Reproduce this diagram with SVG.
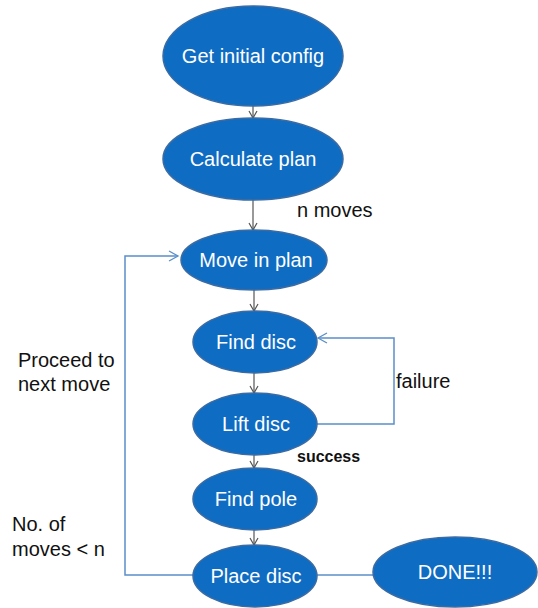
<svg xmlns="http://www.w3.org/2000/svg" width="538" height="608" viewBox="0 0 538 608">
<defs>
<style>
.node{fill:#0f6cc3;stroke:#3a6ba3;stroke-width:1.5}
.nt{font-family:"Liberation Sans",Arial,sans-serif;font-size:20px;fill:#ffffff;text-anchor:middle}
.lbl{font-family:"Liberation Sans",Arial,sans-serif;font-size:20px;fill:#111111}
.dark{fill:none;stroke:#555555;stroke-width:1.2}
.blue{fill:none;stroke:#5b8fc9;stroke-width:1.5}
</style>
<marker id="ad" markerWidth="10" markerHeight="10" refX="8" refY="5" orient="auto" markerUnits="userSpaceOnUse">
<path d="M1,1 L8,5 L1,9" fill="none" stroke="#555555" stroke-width="1.2"/>
</marker>
<marker id="ab" markerWidth="12" markerHeight="12" refX="10" refY="6" orient="auto" markerUnits="userSpaceOnUse">
<path d="M1,1 L10,6 L1,11" fill="none" stroke="#5b8fc9" stroke-width="1.3"/>
</marker>
</defs>
<rect width="538" height="608" fill="#ffffff"/>
<g id="connectors">
<line class="dark" x1="253" y1="106" x2="253" y2="118" marker-end="url(#ad)"/>
<line class="dark" x1="253" y1="200" x2="253" y2="230" marker-end="url(#ad)"/>
<line class="dark" x1="254" y1="290" x2="254" y2="311" marker-end="url(#ad)"/>
<line class="dark" x1="254" y1="373" x2="254" y2="393" marker-end="url(#ad)"/>
<line class="dark" x1="254" y1="455" x2="254" y2="468" marker-end="url(#ad)"/>
<line class="dark" x1="254" y1="530" x2="254" y2="545" marker-end="url(#ad)"/>
<polyline class="blue" points="193,575 125,575 125,256 178,256" marker-end="url(#ab)"/>
<polyline class="blue" points="317,424 394,424 394,338 318,338" marker-end="url(#ab)"/>
<line class="blue" x1="317" y1="575" x2="374" y2="575"/>
</g>
<g id="n-get-config">
<ellipse class="node" cx="253" cy="56" rx="90" ry="50"/>
<text class="nt" x="253" y="63">Get initial config</text>
</g>
<g id="n-calc-plan">
<ellipse class="node" cx="253" cy="159" rx="90" ry="41"/>
<text class="nt" x="253" y="166">Calculate plan</text>
</g>
<g id="n-move">
<ellipse class="node" cx="254" cy="260" rx="73" ry="30"/>
<text class="nt" x="256" y="267">Move in plan</text>
</g>
<g id="n-find-disc">
<ellipse class="node" cx="255" cy="342" rx="62" ry="31"/>
<text class="nt" x="256" y="349">Find disc</text>
</g>
<g id="n-lift-disc">
<ellipse class="node" cx="255" cy="424" rx="62" ry="31"/>
<text class="nt" x="256" y="431">Lift disc</text>
</g>
<g id="n-find-pole">
<ellipse class="node" cx="255" cy="499" rx="62" ry="31"/>
<text class="nt" x="256" y="506">Find pole</text>
</g>
<g id="n-place-disc">
<ellipse class="node" cx="255" cy="576" rx="62" ry="31"/>
<text class="nt" x="256" y="583">Place disc</text>
</g>
<g id="n-done">
<ellipse class="node" cx="455" cy="572" rx="82" ry="35"/>
<text class="nt" x="455" y="579">DONE!!!</text>
</g>
<g id="labels">
<text class="lbl" x="297" y="217">n moves</text>
<text class="lbl" x="18" y="367">Proceed to</text>
<text class="lbl" x="18" y="391">next move</text>
<text class="lbl" x="396" y="388">failure</text>
<text x="297" y="462" font-family="'Liberation Sans',Arial,sans-serif" font-size="16" font-weight="bold" fill="#111111">success</text>
<text class="lbl" x="12" y="531">No. of</text>
<text class="lbl" x="12" y="556">moves &lt; n</text>
</g>
</svg>
